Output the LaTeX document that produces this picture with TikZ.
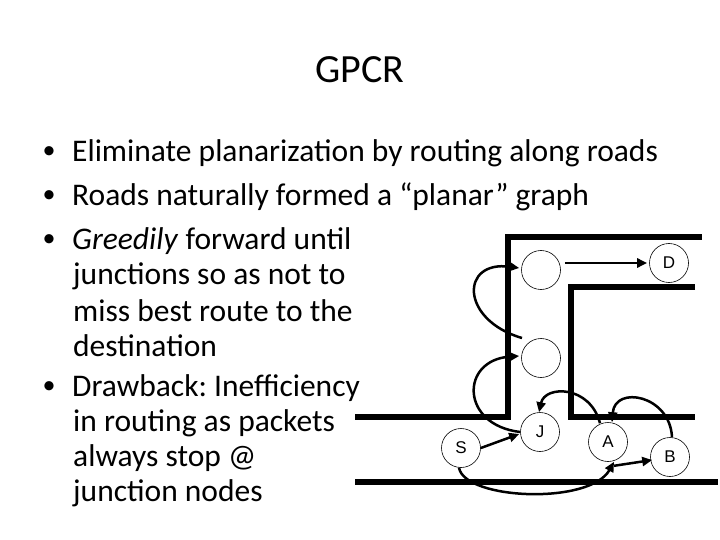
\documentclass[tikz,border=0pt]{standalone}
\usepackage{fontspec}
\setmainfont{Carlito}
\setsansfont{Liberation Sans}
\usetikzlibrary{arrows.meta}
\frenchspacing
\begin{document}
\begin{tikzpicture}[x=1pt,y=-1pt,
  txt/.style={anchor=west,inner sep=0pt,font=\fontsize{31.5}{36}\selectfont},
  bul/.style={anchor=center,inner sep=0pt,font=\fontsize{26}{30}\selectfont},
  road/.style={line width=5.5pt},
  vert/.style={draw,circle,minimum size=39pt,inner sep=0pt,line width=0.6pt,font=\sffamily\fontsize{17}{19}\selectfont},
  arr/.style={line width=2.5pt,-{Triangle[length=10pt,width=9pt]}}]
\useasboundingbox (0,0) rectangle (720,540);
\node[inner sep=0pt,font=\fontsize{40}{44}\selectfont] (title) at (360,70) {GPCR};
\node[bul] (b1) at (49,153) {•};
\node[txt] (t1) at (72,153) {Eliminate planarization by routing along roads};
\node[bul] (b2) at (49,197) {•};
\node[txt] (t2) at (72,197) {Roads naturally formed a “planar” graph};
\node[bul] (b3) at (49,241) {•};
\node[txt] (t3) at (72,241) {\textit{Greedily} forward until};
\node[txt] (t4) at (73,276) {junctions so as not to};
\node[txt] (t5) at (73,311) {miss best route to the};
\node[txt] (t6) at (73,346) {destination};
\node[bul] (b4) at (49,388) {•};
\node[txt] (t7) at (72,388) {Drawback: Inefficiency};
\node[txt] (t8) at (73,423) {in routing as packets};
\node[txt] (t9) at (73,458) {always stop @};
\node[txt] (t10) at (73,493) {junction nodes};
% roads
\draw[road] (355,417) -- (508,417) -- (508,237) -- (702,237);
\draw[road] (695,287) -- (571,287) -- (571,417) -- (695,417);
\draw[road] (355,482) -- (718,482);
% nodes
\node[vert] (n1) at (541,270) {};
\node[vert] (d) at (669,263) {D};
\node[vert] (n2) at (541,358) {};
\node[vert] (j) at (540,432) {J};
\node[vert] (s) at (461,448) {S};
\node[vert] (a) at (608,442) {A};
\node[vert] (b) at (670,457) {B};
% arrows
\draw[arr] (n1.east)++(4,-7) coordinate (p1) -- ([xshift=-2pt]d.west |- p1);
\draw[arr] (522,338) coordinate (c1) .. controls (460,320) and (460,260) .. ([shift={(-2,-2)}]n1.west);
\draw[arr] (j.west) .. controls (460,425) and (460,360) .. ([shift={(-2,-2)}]n2.west);
\draw[arr] (s.east) -- ([shift={(-1,2)}]j.west);
\draw[arr] ([shift={(-8,1)}]a.north) .. controls (590,385) and (545,385) .. ([xshift=-1pt]j.north);
\draw[arr] ([xshift=2pt]b.north) .. controls (670,395) and (615,385) .. ([xshift=4pt]a.north);
\draw[arr] ([shift={(6,4)}]a.south) -- ([shift={(2,3)}]b.west);
\draw[arr] ([xshift=-2pt]s.south) .. controls (465,500) and (590,505) .. ([xshift=6pt]a.south);
\end{tikzpicture}
\end{document}
